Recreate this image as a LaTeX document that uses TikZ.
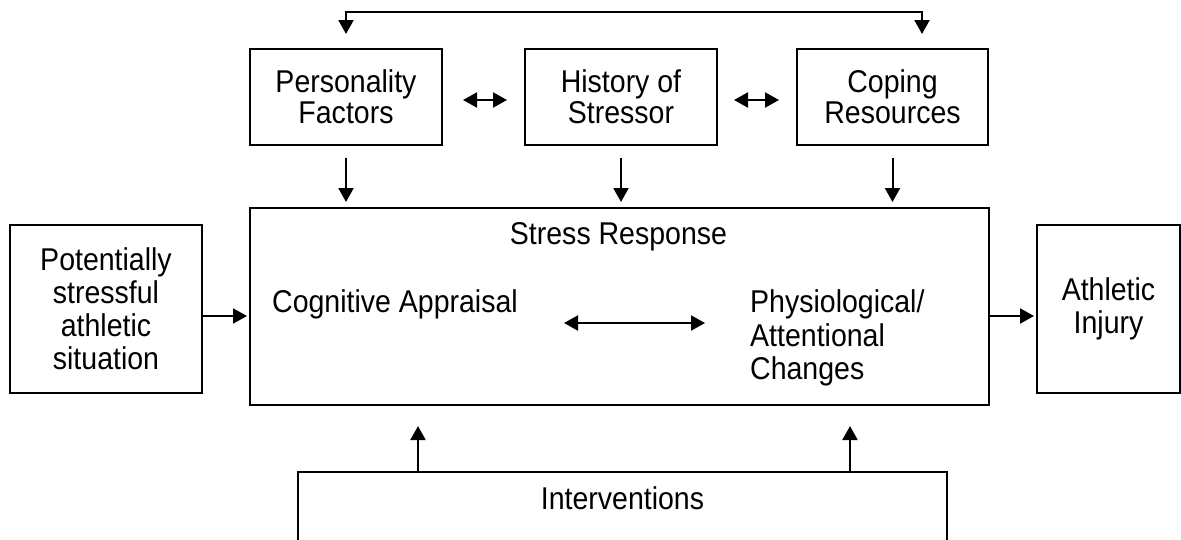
\documentclass[tikz,border=0pt]{standalone}
\usepackage{fontspec}
\setmainfont[FakeStretch=0.905]{Liberation Sans}
\usetikzlibrary{arrows.meta,calc}
\begin{document}
\begin{tikzpicture}[x=1pt,y=-1pt,
  box/.style={draw, line width=2pt, inner sep=0pt, align=center, font=\fontsize{31.5}{33}\selectfont},
  topbox/.style={box, minimum width=192pt, minimum height=96pt, font=\fontsize{31.5}{31}\selectfont},
  txt/.style={inner sep=0pt, font=\fontsize{31.5}{33.5}\selectfont},
  tip/.tip={Triangle[length=14pt,width=15pt]},
  arr/.style={line width=2pt, -tip},
  dbl/.style={line width=2pt, tip-tip}]
\useasboundingbox (0,0) rectangle (1181,539);

% top row
\node[topbox] (pf) at (346,97) {Personality\\Factors};
\node[topbox] (hs) at (621,97) {History of\\Stressor};
\node[topbox, minimum width=191pt] (cr) at (892.5,97) {Coping\\Resources};

% middle row
\node[box, minimum width=739pt, minimum height=197pt] (sr) at (619.5,306.5) {};
\node[box, minimum width=192pt, minimum height=168pt] (ps) at (106,309) {Potentially\\stressful\\athletic\\situation};
\node[box, minimum width=143pt, minimum height=168pt] (ai) at (1108.5,309) {Athletic\\Injury};

% texts inside stress response
\node[txt, anchor=base] (srt) at (618.5,244) {Stress Response};
\node[txt, anchor=base west] (ca) at (272,312) {Cognitive Appraisal};
\node[txt, anchor=west, align=left] (pc) at (750,338) {Physiological/\\Attentional\\Changes};

% interventions (bottom edge outside the picture)
\node[box, anchor=north, minimum width=649pt, text height=37pt, text depth=70pt] (iv) at (622.5,471) {Interventions};

% connectors
\draw[dbl, shorten <=14pt, shorten >=14pt] (pf.north) -- ++(0,-36) -| ([xshift=29.5pt]cr.north);
\draw[dbl, shorten <=20pt, shorten >=17pt] ([yshift=-3pt]pf.east) -- ([yshift=-3pt]pf.east -| hs.west);
\draw[dbl, shorten <=16pt, shorten >=17pt] ([yshift=-3pt]hs.east) -- ([yshift=-3pt]hs.east -| cr.west);

\draw[arr, shorten <=12pt, shorten >=5pt] (pf.south) -- (pf.south |- sr.north);
\draw[arr, shorten <=12pt, shorten >=5pt] (hs.south) -- (hs.south |- sr.north);
\draw[arr, shorten <=12pt, shorten >=5pt] (cr.south) -- (cr.south |- sr.north);

\draw[arr, shorten >=2pt] ([yshift=-7pt]ps.east) -- ([yshift=-7pt]ps.east -| sr.west);
\draw[arr, shorten >=2pt] ([yshift=-7pt]ai.west -| sr.east) -- ([yshift=-7pt]ai.west);

\draw[dbl, shorten <=46pt, shorten >=45pt] ($(ca.base east)+(0,11)$) -- ($(ca.base east -| pc.west)+(0,11)$);

\draw[arr, shorten >=20pt] ([xshift=-204.5pt]iv.north) -- ([xshift=-204.5pt]iv.north |- sr.south);
\draw[arr, shorten >=20pt] ([xshift=227.5pt]iv.north) -- ([xshift=227.5pt]iv.north |- sr.south);
\end{tikzpicture}
\end{document}
